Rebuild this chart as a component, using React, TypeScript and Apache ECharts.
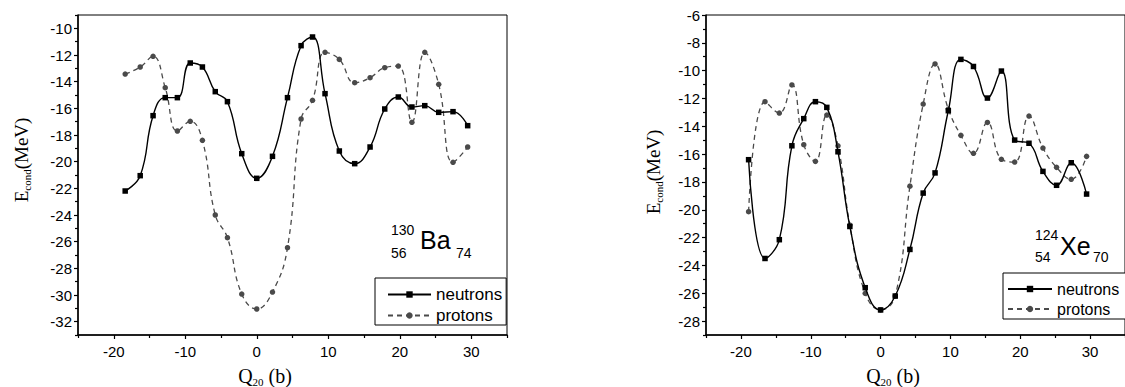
import React, { useEffect, useRef } from "react";
import * as echarts from "echarts";

// ---- data: Ba-130 (left panel) ----
const qBa = [-18.4, -16.3, -14.5, -12.8, -11.1, -9.3, -7.6, -5.8, -4.1, -2.1, 0, 2.2, 4.3, 6.2, 7.8, 9.55, 11.55, 13.7, 15.85, 17.9, 19.8, 21.7, 23.5, 25.45, 27.45, 29.5];
const neutronsBa = [-22.2, -21.05, -16.55, -15.2, -15.2, -12.6, -12.9, -14.75, -15.5, -19.4, -21.25, -19.6, -15.2, -11.3, -10.65, -14.9, -19.2, -20.15, -18.9, -16.05, -15.15, -15.9, -15.8, -16.3, -16.25, -17.3];
const protonsBa = [-13.43, -12.9, -12.1, -14.45, -17.7, -16.97, -18.4, -24.0, -25.7, -29.93, -31.05, -29.78, -26.45, -16.8, -15.4, -11.8, -12.33, -14.08, -13.7, -12.95, -12.83, -17.05, -11.8, -14.2, -20.05, -18.9];

// ---- data: Xe-124 (right panel) ----
const qXe = [-18.9, -16.55, -14.5, -12.7, -11.0, -9.33, -7.7, -6.1, -4.4, -2.2, 0, 2.1, 4.2, 6.1, 7.8, 9.7, 11.5, 13.3, 15.3, 17.3, 19.2, 21.25, 23.25, 25.2, 27.3, 29.5];
const neutronsXe = [-16.4, -23.5, -22.15, -15.4, -13.45, -12.23, -12.64, -15.83, -21.2, -25.6, -27.2, -26.2, -22.85, -18.8, -17.35, -12.88, -9.19, -9.7, -11.97, -10.03, -14.99, -15.22, -17.24, -18.24, -16.62, -18.87];
const protonsXe = [-20.14, -12.23, -13.05, -11.03, -15.32, -16.52, -13.19, -15.4, -21.1, -26.0, -27.2, -26.2, -18.3, -12.4, -9.52, -12.76, -14.65, -15.94, -13.72, -16.37, -16.57, -13.26, -15.56, -16.95, -17.81, -16.16];

// ---- ticks ----
const xMajor = [-20, -10, 0, 10, 20, 30];
const xMinor = [-25, -15, -5, 5, 15, 25, 35];
const yMajorBa = [-32, -30, -28, -26, -24, -22, -20, -18, -16, -14, -12, -10];
const yMinorBa = [-33, -31, -29, -27, -25, -23, -21, -19, -17, -15, -13, -11, -9];
const yMajorXe = [-28, -26, -24, -22, -20, -18, -16, -14, -12, -10, -8, -6];
const yMinorXe = [-29, -27, -25, -23, -21, -19, -17, -15, -13, -11, -9, -7];

const legendNames = ["neutrons", "protons"];

const SANS = "Liberation Sans, Arial, sans-serif";
const SERIF = "Liberation Serif, Times New Roman, serif";

const pair = (xs: number[], ys: number[]) => xs.map((x, i) => [x, ys[i]]);

function xAxes(gridIndex: number) {
  return [
    {
      type: "value", gridIndex, min: -25, max: 35, position: "bottom",
      splitLine: { show: false },
      axisLine: { show: true, onZero: false, lineStyle: { color: "#000", width: 1.5 } },
      axisTick: { show: true, customValues: xMajor, length: 4, inside: false, lineStyle: { color: "#000", width: 1.2 } },
      axisLabel: { show: true, customValues: xMajor, margin: 9, color: "#000", fontFamily: SANS, fontSize: 15 },
    },
    {
      type: "value", gridIndex, min: -25, max: 35, position: "bottom",
      splitLine: { show: false },
      axisLine: { show: false, onZero: false },
      axisTick: { show: true, customValues: xMinor, length: 3, lineStyle: { color: "#000", width: 1.2 } },
      axisLabel: { show: false },
    },
  ];
}

function yAxes(gridIndex: number, min: number, max: number, major: number[], minor: number[]) {
  return [
    {
      type: "value", gridIndex, min, max, position: "left",
      splitLine: { show: false },
      axisLine: { show: true, onZero: false, lineStyle: { color: "#000", width: 1.5 } },
      axisTick: { show: true, customValues: major, length: 4, lineStyle: { color: "#000", width: 1.2 } },
      axisLabel: { show: true, customValues: major, margin: 6, color: "#000", fontFamily: SANS, fontSize: 15 },
    },
    {
      type: "value", gridIndex, min, max, position: "left",
      splitLine: { show: false },
      axisLine: { show: false, onZero: false },
      axisTick: { show: true, customValues: minor, length: 3, lineStyle: { color: "#000", width: 1.2 } },
      axisLabel: { show: false },
    },
  ];
}

function neutronSeries(xi: number, yi: number, data: number[][]) {
  return {
    name: "neutrons", type: "line", xAxisIndex: xi, yAxisIndex: yi, data,
    smooth: 0.45, symbol: "rect", symbolSize: 5.5, showSymbol: true,
    itemStyle: { color: "#000" },
    lineStyle: { color: "#000", width: 1.4, type: "solid" },
    z: 3,
  };
}
function protonSeries(xi: number, yi: number, data: number[][]) {
  return {
    name: "protons", type: "line", xAxisIndex: xi, yAxisIndex: yi, data,
    smooth: 0.45, symbol: "circle", symbolSize: 5.5, showSymbol: true,
    itemStyle: { color: "#4a4a4a" },
    lineStyle: { color: "#4a4a4a", width: 1.3, type: [5, 4] },
    z: 2,
  };
}

function sub(text: string, x: number, y: number, size: number) {
  return {
    type: "text", x, y, z: 10,
    style: { text, fontFamily: SANS, fontSize: size, fill: "#000", align: "left", verticalAlign: "middle" },
  };
}

function ecAxisTitle(x: number, y: number) {
  return {
    type: "text", x, y, rotation: Math.PI / 2, z: 10,
    style: {
      text: "{a|E}{b|cond}{a|(MeV)}",
      align: "center", verticalAlign: "middle",
      rich: {
        a: { fontFamily: SERIF, fontSize: 19, lineHeight: 22, fill: "#000" },
        b: { fontFamily: SERIF, fontSize: 11, lineHeight: 10, verticalAlign: "bottom", fill: "#000" },
      },
    },
  };
}
function qAxisTitle(x: number, y: number) {
  return {
    type: "text", x, y, z: 10,
    style: {
      text: "{a|Q}{b|20}{a| (b)}",
      align: "center", verticalAlign: "middle",
      rich: {
        a: { fontFamily: SERIF, fontSize: 20, lineHeight: 22, fill: "#000" },
        b: { fontFamily: SERIF, fontSize: 11, lineHeight: 10, verticalAlign: "bottom", fill: "#000" },
      },
    },
  };
}

export default function App() {
  const ref = useRef<HTMLDivElement>(null);
  useEffect(() => {
    if (!ref.current) return;
    const chart = echarts.init(ref.current, null, { renderer: "svg" });
    const legendCommon = {
      orient: "vertical", itemHeight: 8, itemGap: 4,
      borderColor: "#000", borderWidth: 1, borderRadius: 0, backgroundColor: "#fff",
      data: legendNames, selectedMode: false,
    };
    chart.setOption({
      animation: false,
      backgroundColor: "#fff",
      grid: [
        { left: 78, right: 618, top: 15, bottom: 52, show: true, borderColor: "#000", borderWidth: 1, backgroundColor: "transparent", containLabel: false },
        { left: 706, right: -11, top: 15, bottom: 52, show: true, borderColor: "#000", borderWidth: 1, backgroundColor: "transparent", containLabel: false },
      ],
      xAxis: [...xAxes(0), ...xAxes(1)],
      yAxis: [
        ...yAxes(0, -33, -9, yMajorBa, yMinorBa),
        ...yAxes(1, -29, -6, yMajorXe, yMinorXe),
      ],
      legend: [
        { ...legendCommon, left: 375, top: 278, padding: [8, 4, 1, 12], itemWidth: 43,
          textStyle: { fontFamily: SANS, fontSize: 17, color: "#000" } },
        { ...legendCommon, left: 1003, top: 273, padding: [8, 14, 2, 4], itemWidth: 44,
          textStyle: { fontFamily: SANS, fontSize: 16, color: "#000" } },
      ],
      series: [
        neutronSeries(0, 0, pair(qBa, neutronsBa)),
        protonSeries(0, 0, pair(qBa, protonsBa)),
        neutronSeries(2, 2, pair(qXe, neutronsXe)),
        protonSeries(2, 2, pair(qXe, protonsXe)),
      ],
      graphic: [
        ecAxisTitle(21, 160),
        ecAxisTitle(653, 172),
        qAxisTitle(265, 376),
        qAxisTitle(893, 376),
        sub("130", 391, 230, 14),
        sub("56", 391, 253, 14),
        sub("Ba", 420, 240, 25),
        sub("74", 456, 253, 14),
        sub("124", 1035, 235, 14),
        sub("54", 1035, 257, 14),
        sub("Xe", 1060, 246, 25),
        sub("70", 1093, 257, 14),
      ],
    });
    return () => chart.dispose();
  }, []);
  return <div ref={ref} style={{ position: "fixed", left: 0, top: 0, width: 1125, height: 387 }} />;
}
